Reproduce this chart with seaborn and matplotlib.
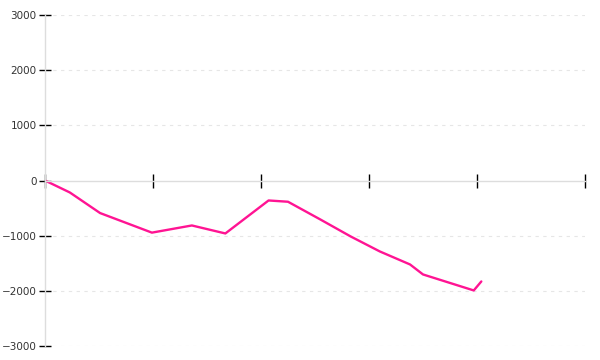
import matplotlib
matplotlib.use("Agg")
import matplotlib.pyplot as plt
import seaborn as sns
import pandas as pd

x_vals = [0.0, 0.23, 0.51, 0.99, 1.36, 1.67, 2.07, 2.25, 2.55, 2.83, 3.10, 3.38, 3.50, 3.97, 4.04]
y_vals = [0, -217, -590, -945, -815, -960, -362, -385, -707, -1014, -1286, -1522, -1703, -1993, -1830]
y_ticks = [-3000, -2000, -1000, 0, 1000, 2000, 3000]
x_ticks = [0, 1, 2, 3, 4, 5]

sns.set_style("white")
plt.rcParams['font.family'] = ['DejaVu Sans']

df = pd.DataFrame({"x": x_vals, "y": y_vals})
fig = plt.figure(figsize=(6, 3.6), dpi=100)
ax = fig.add_axes([0.075, 0.0389, 0.9, 0.9194])
sns.lineplot(data=df, x="x", y="y", ax=ax, color="#ff1493", linewidth=1.7, sort=False)

ax.set_xlim(0, 5)
ax.set_ylim(-3000, 3000)
ax.set_xticks(x_ticks)
ax.set_xticklabels([])
ax.set_yticks(y_ticks)
ax.set_yticklabels([f"{v}".replace("-", "\u2212") for v in y_ticks], fontsize=7.5, color="#333333")
ax.set_xlabel("")
ax.set_ylabel("")

for v in y_ticks:
    if v != 0:
        ax.axhline(v, color="#e6e6e6", linestyle=(0, (3, 4)), linewidth=0.8, zorder=0)

ax.spines['top'].set_visible(False)
ax.spines['right'].set_visible(False)
ax.spines['bottom'].set_position(('data', 0))
ax.spines['bottom'].set_color("#dddddd")
ax.spines['left'].set_color("#dddddd")
ax.spines['bottom'].set_linewidth(1.0)
ax.spines['left'].set_linewidth(1.0)
ax.tick_params(axis='x', direction='inout', length=10, width=1, color="black", bottom=True)
ax.tick_params(axis='y', direction='inout', length=8, width=1, color="black", left=True, pad=2)

fig.savefig("out.png", dpi=100)
